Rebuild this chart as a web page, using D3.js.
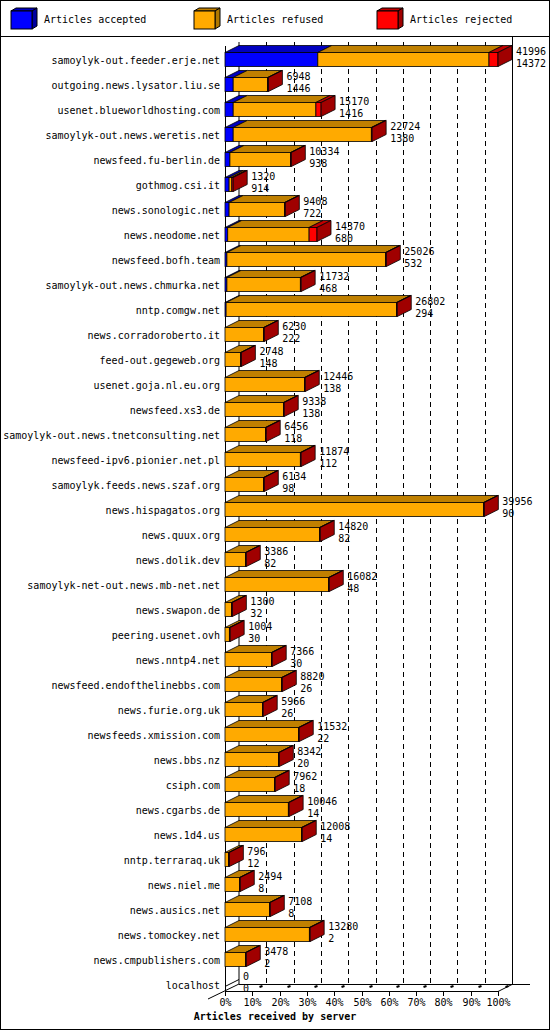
<!DOCTYPE html><html><head><meta charset="utf-8"><script src="https://cdn.jsdelivr.net/npm/d3@7"></script>
<style>body{margin:0;background:#fff}text{font-family:"DejaVu Sans Mono",monospace;font-size:10px}</style></head><body><svg id="c" width="550" height="1030"></svg>
<script>
const servers=["samoylyk-out.feeder.erje.net","outgoing.news.lysator.liu.se","usenet.blueworldhosting.com","samoylyk-out.news.weretis.net","newsfeed.fu-berlin.de","gothmog.csi.it","news.sonologic.net","news.neodome.net","newsfeed.bofh.team","samoylyk-out.news.chmurka.net","nntp.comgw.net","news.corradoroberto.it","feed-out.gegeweb.org","usenet.goja.nl.eu.org","newsfeed.xs3.de","samoylyk-out.news.tnetconsulting.net","newsfeed-ipv6.pionier.net.pl","samoylyk.feeds.news.szaf.org","news.hispagatos.org","news.quux.org","news.dolik.dev","samoylyk-net-out.news.mb-net.net","news.swapon.de","peering.usenet.ovh","news.nntp4.net","newsfeed.endofthelinebbs.com","news.furie.org.uk","newsfeeds.xmission.com","news.bbs.nz","csiph.com","news.cgarbs.de","news.1d4.us","nntp.terraraq.uk","news.niel.me","news.ausics.net","news.tomockey.net","news.cmpublishers.com","localhost"];
const label1=[41996,6948,15170,22724,10334,1320,9408,14370,25026,11732,26802,6230,2748,12446,9338,6456,11874,6134,39956,14820,3386,16082,1300,1004,7366,8820,5966,11532,8342,7962,10046,12008,796,2494,7108,13280,3478,0];
const label2=[14372,1446,1416,1380,938,914,722,680,532,468,294,222,148,138,138,118,112,98,90,82,82,48,32,30,30,26,26,22,20,18,14,14,12,8,8,2,2,0];
const accepted=[34,3,3,3,1.8,1.5,1.5,1,0.7,0.7,0.4,0,0,0,0,0,0,0,0,0,0,0,0,0,0,0,0,0,0,0,0,0,0,0,0,0,0,0];
const refused=[62.7,12.6,30.3,50.6,22.2,1,20.3,29.8,58.1,26.9,62.4,14.1,5.7,29.1,21.4,14.8,27.6,14.1,94.7,34.6,7.5,37.9,2.4,1.6,17,20.7,13.7,26.9,19.6,18.1,23.2,28,1.3,5.3,16.3,30.9,7.5,0];
const rejected=[3.3,0.3,1.9,0.3,0.3,0.5,0.3,2.9,0.3,0.3,0.3,0.3,0.3,0.3,0.3,0.3,0.3,0.3,0.3,0.3,0.3,0.3,0.3,0.3,0.3,0.3,0.3,0.3,0.3,0.3,0.3,0.3,0.3,0.3,0.3,0.3,0.3,0];
const ticks=[0,10,20,30,40,50,60,70,80,90,100];
const svg=d3.select("#c");
const DX=14,DY=7,BH=14;
const x=d3.scaleLinear().domain([0,100]).range([225,498]);
const y=d3.scalePoint().domain(servers).range([59.5,984.5]);
svg.append("rect").attr("x",0.5).attr("y",0.5).attr("width",549).attr("height",1029).attr("fill","none").attr("stroke","#000");
svg.append("line").attr("x1",0).attr("x2",550).attr("y1",36.5).attr("y2",36.5).attr("stroke","#000");
// legend
const leg=[["Articles accepted","#0000ff","#0000a0","#0000c0"],["Articles refused","#ffaa00","#b07800","#c08000"],["Articles rejected","#ff0000","#a00000","#c00000"]];
leg.forEach((l,i)=>{const lx=11+183*i,ly=11;
 svg.append("polygon").attr("points",`${lx},${ly} ${lx+5},${ly-3} ${lx+26},${ly-3} ${lx+21},${ly}`).attr("fill",l[3]).attr("stroke","#000");
 svg.append("polygon").attr("points",`${lx+21},${ly} ${lx+26},${ly-3} ${lx+26},${ly+15} ${lx+21},${ly+18}`).attr("fill",l[2]).attr("stroke","#000");
 svg.append("rect").attr("x",lx).attr("y",ly).attr("width",21).attr("height",18).attr("fill",l[1]).attr("stroke","#000");
 svg.append("text").attr("x",lx+33).attr("y",ly+12).text(l[0]);});
// back wall & grid
const bx=v=>x(v)+DX;
svg.append("line").attr("x1",bx(0)).attr("x2",bx(0)).attr("y1",42).attr("y2",984).attr("stroke","#000");
svg.append("line").attr("x1",bx(100)+0.5).attr("x2",bx(100)+0.5).attr("y1",37).attr("y2",984).attr("stroke","#000");
ticks.slice(1,10).forEach(t=>svg.append("line").attr("x1",Math.round(bx(t))+.5).attr("x2",Math.round(bx(t))+.5).attr("y1",42).attr("y2",984).attr("stroke","#000").attr("stroke-dasharray","5,4"));
svg.append("line").attr("x1",bx(0)).attr("x2",530).attr("y1",984.5).attr("y2",984.5).attr("stroke","#000");
svg.append("line").attr("x1",x(0)).attr("x2",x(100)).attr("y1",991.5).attr("y2",991.5).attr("stroke","#000");
svg.append("line").attr("x1",x(100)).attr("x2",bx(100)).attr("y1",991.5).attr("y2",984.5).attr("stroke","#000");
svg.append("line").attr("x1",208).attr("x2",bx(0)).attr("y1",999).attr("y2",984).attr("stroke","#000");
svg.append("line").attr("x1",x(0)+.5).attr("x2",x(0)+.5).attr("y1",46).attr("y2",995).attr("stroke","#000");
ticks.forEach(t=>{const tx=Math.round(x(t))+.5;
 svg.append("line").attr("x1",tx).attr("x2",tx).attr("y1",991).attr("y2",996).attr("stroke","#000");
 if(t>0)svg.append("line").attr("x1",tx+7).attr("x2",tx+10).attr("y1",987).attr("y2",986).attr("stroke","#000").attr("stroke-width",2);
 svg.append("text").attr("x",tx).attr("y",1006).attr("text-anchor","middle").text(t+"%");});
svg.append("text").attr("x",275).attr("y",1020).attr("text-anchor","middle").attr("font-weight","bold").text("Articles received by server");
// bars
servers.forEach((s,i)=>{const cy=y(s),top=cy-BH/2;
 svg.append("text").attr("x",220).attr("y",cy+4).attr("text-anchor","end").text(s);
 const segs=[[accepted[i],leg[0]],[refused[i],leg[1]],[rejected[i],leg[2]]];
 let acc=0;const total=accepted[i]+refused[i]+rejected[i];
 if(total>0){
 segs.forEach(([v,c])=>{if(v<=0)return;const x0=x(acc),x1=x(acc+v);acc+=v;
  svg.append("polygon").attr("points",`${x0},${top} ${x0+DX},${top-DY} ${x1+DX},${top-DY} ${x1},${top}`).attr("fill",c[3]).attr("stroke","#000").attr("stroke-width",0.8);
  svg.append("rect").attr("x",x0).attr("y",top).attr("width",x1-x0).attr("height",BH).attr("fill",c[1]).attr("stroke","#000").attr("stroke-width",0.8);});
 const xe=x(total),lc=rejected[i]>0?leg[2]:leg[1];
 svg.append("polygon").attr("points",`${xe},${top} ${xe+DX},${top-DY} ${xe+DX},${top+BH-DY} ${xe},${top+BH}`).attr("fill",lc[2]).attr("stroke","#000").attr("stroke-width",0.8);
 }else{svg.append("line").attr("x1",x(0)).attr("x2",x(0)+DX).attr("y1",cy+2).attr("y2",cy-5).attr("stroke","#000");}
 const lx=x(total)+DX+4;
 svg.append("text").attr("x",lx).attr("y",cy-5).text(label1[i]);
 svg.append("text").attr("x",lx).attr("y",cy+7).text(label2[i]);
});
</script></body></html>
